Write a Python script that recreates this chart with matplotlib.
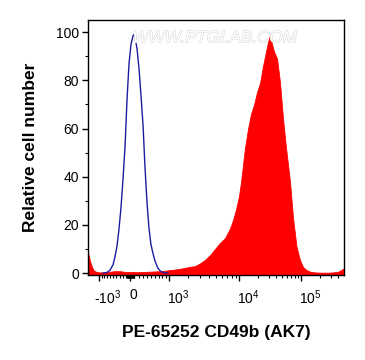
"""
plot.py
=======
Flow cytometry overlay: PE-65252 CD49b (AK7) stained sample (red, filled)
against the unstained control (blue line), on a biexponential-style x axis.
"""
import matplotlib
matplotlib.use("Agg")
import matplotlib.pyplot as plt
import matplotlib.transforms as mtransforms
import matplotlib.patheffects as pe
from matplotlib.ticker import FixedLocator, NullFormatter
import numpy as np

# --- data ------------------------------------------------------------------
# unstained control (blue)
blue_x = [-845, -700, -600, -500, -440, -380, -320, -260, -200, -140, -85, -28,
          23, 68, 90, 113, 160, 205, 250, 300, 345, 395, 440, 490, 545, 595,
          675, 760, 875, 965]
blue_y = [0, 0.3, 1.2, 3.5, 6.8, 11, 18, 27, 39, 53, 72, 87,
          95, 98.5, 99, 98, 93, 85, 74, 61, 44, 29, 19, 12, 8, 5,
          2, 0.6, 0.1, 0]

# CD49b stained (red)
red_x = [-1495, -1400, -1305, -1215, -1085, -960, -775, -600, -440, -290, -140, 0,
         115, 230, 345, 465, 595, 730, 875, 1000, 1270, 1540, 1830, 2160, 2550,
         2990, 3520, 4120, 4790, 5590, 6510, 7620, 8330, 9130, 10000, 10800,
         11600, 12500, 14000, 15600, 17500, 19500, 21900, 24400, 27300, 29400,
         31700, 34100, 36700, 41100, 45900, 51300, 57300, 61700, 66400, 74200,
         84500, 96200, 108000, 124000, 140000, 168000, 202000, 293000, 393000,
         440000, 474000, 492000]
red_y = [8.5, 5, 2.5, 1, 0.4, 0.3, 0.3, 0.6, 0.8, 0.8, 0.5, 0.5,
         0.4, 0.4, 0.5, 0.6, 0.7, 0.8, 1.0, 1.2, 1.5, 1.8, 2.2, 2.6, 2.9,
         4, 5.5, 7.5, 10, 12.5, 14.5, 18.6, 22, 26.5, 32, 38,
         45, 52, 60, 66, 70, 75, 79, 86, 92, 96,
         99, 95, 92, 89, 79, 64, 52, 45, 38, 23,
         11, 5.4, 2.5, 1.2, 0.6, 0.3, 0.2, 0.2, 0.5,
         1.2, 1.8, 1.5]

x_major = [-1e3, 0, 1e3, 1e4, 1e5]
x_labels = [r"-10$^3$", "0", r"10$^3$", r"10$^4$", r"10$^5$"]
y_major = [0, 20, 40, 60, 80, 100]

# --- biexponential-ish axis: arcsinh, then piecewise-linear stretch -----------
_ANCHOR_V = np.array([-1e4, -1e3, 0, 1e3, 1e4, 1e5, 1e7])
_ANCHOR_P = np.array([24.5, 99, 130, 169, 239, 301, 425])
_ANCHOR_U = np.arcsinh(_ANCHOR_V / 1000.0)


def _fwd(v):
    return np.interp(np.arcsinh(np.asarray(v, dtype=float) / 1000.0), _ANCHOR_U, _ANCHOR_P)


def _inv(p):
    return 1000.0 * np.sinh(np.interp(np.asarray(p, dtype=float), _ANCHOR_P, _ANCHOR_U))


def _minor_ticks():
    ticks = []
    for k in range(1, 10):
        ticks += [k * 10, -k * 10, k * 100, -k * 100]
        ticks += [k * 1e3, k * 1e4, k * 1e5]
    return sorted(t for t in ticks if t not in x_major and -1500 < t < 4.9e5)


plt.rcParams["font.family"] = ["Liberation Sans", "DejaVu Sans"]
plt.rcParams["mathtext.fontset"] = "custom"
plt.rcParams["mathtext.rm"] = "Liberation Sans"
plt.rcParams["mathtext.it"] = "Liberation Sans"

fig = plt.figure(figsize=(3.65, 3.6), dpi=100)
ax = fig.add_axes([0.241, 0.236, 0.701, 0.708])
ax.set_xscale("function", functions=(_fwd, _inv))

ax.fill_between(red_x, red_y, -1, color="#ff0000", linewidth=0.6, edgecolor="#ff0000")
ax.plot(blue_x, blue_y, color="#1c1ca0", linewidth=1.0)

ax.set_xlim(-1500, 4.9e5)
ax.set_ylim(-0.8, 105)

ax.xaxis.set_major_locator(FixedLocator(x_major))
ax.xaxis.set_minor_locator(FixedLocator(_minor_ticks()))
ax.xaxis.set_minor_formatter(NullFormatter())
ax.set_xticks(x_major)
ax.set_xticklabels(x_labels)
ax.set_yticks(y_major)
ax.yaxis.set_minor_locator(FixedLocator([10, 30, 50, 70, 90]))

ax.tick_params(which="major", direction="out", length=4.5, width=1.0,
               labelsize=10, color="black", top=False, right=False)
ax.tick_params(which="minor", direction="out", length=2.5, width=0.8,
               top=False, right=False)
ax.tick_params(axis="x", which="major", pad=5)
ax.tick_params(axis="y", which="major", pad=2)
for spine in ax.spines.values():
    spine.set_linewidth(1.0)
    spine.set_color("black")

# FlowJo-style labels sit a little right of their ticks
shifts = [9, 3, 9, 9, 9]
for lab, dx in zip(ax.get_xticklabels(), shifts):
    lab.set_transform(lab.get_transform()
                      + mtransforms.ScaledTranslation(dx / 100.0, 0, fig.dpi_scale_trans))

ax.set_xlabel("PE-65252 CD49b (AK7)", fontsize=12.5, fontweight="bold", labelpad=13)
ax.set_ylabel("Relative cell number", fontsize=12.5, fontweight="bold", labelpad=13)

# site watermark, hollow grey letters
ax.text(0.496, 0.93, "WWW.PTGLAB.COM", transform=ax.transAxes, ha="center",
        va="center", fontsize=12.3, style="italic", color="white",
        path_effects=[pe.withStroke(linewidth=0.7, foreground="#d4d4d4")])

fig.savefig("out.png", dpi=100)
plt.close(fig)
